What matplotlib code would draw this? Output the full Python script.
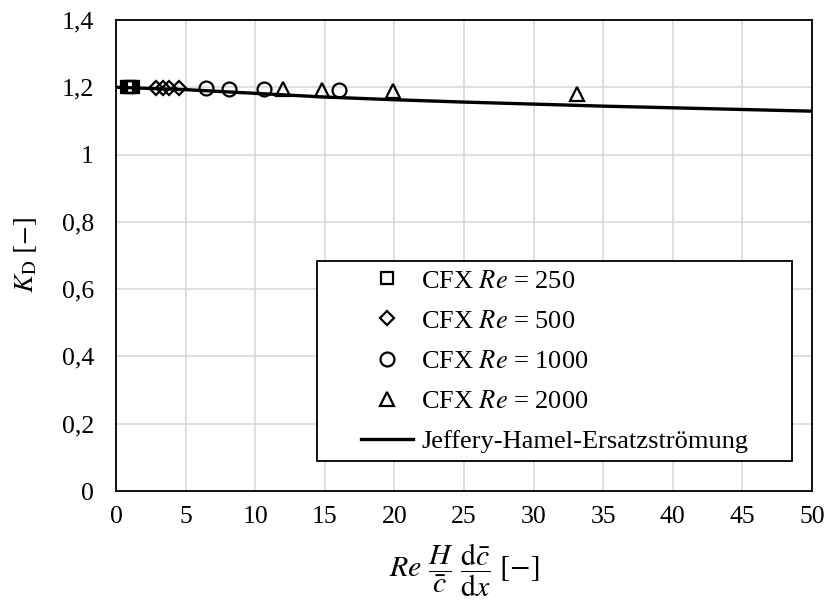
import matplotlib
matplotlib.use("Agg")
import matplotlib.pyplot as plt
from matplotlib.patches import Rectangle
from matplotlib.ticker import FuncFormatter, MultipleLocator

plt.rcParams['font.family'] = ['Liberation Serif', 'DejaVu Serif']
plt.rcParams['mathtext.fontset'] = 'stix'

# Data
re250_x = [0.8, 0.95, 1.1, 1.25]
re250_y = [1.200, 1.200, 1.200, 1.200]
re500_x = [2.85, 3.35, 3.8, 4.5]
re500_y = [1.199, 1.199, 1.198, 1.198]
re1000_x = [6.5, 8.1, 10.6, 16.0]
re1000_y = [1.197, 1.196, 1.194, 1.191]
re2000_x = [12.0, 14.8, 19.9, 33.1]
re2000_y = [1.194, 1.191, 1.188, 1.179]
jh_x = [0, 5, 10, 15, 20, 25, 30, 35, 40, 45, 50]
jh_y = [1.200, 1.193, 1.182, 1.171, 1.163, 1.156, 1.150, 1.144, 1.139, 1.134, 1.129]

labels = [r'CFX $\mathit{Re}$ = 250', r'CFX $\mathit{Re}$ = 500',
          r'CFX $\mathit{Re}$ = 1000', r'CFX $\mathit{Re}$ = 2000',
          'Jeffery-Hamel-Ersatzströmung']

fig = plt.figure(figsize=(8.27, 6.03), dpi=100)
ax = fig.add_axes([116/827, 1-491/603, (812-116)/827, (491-20)/603])

fs = 18.5
mk = dict(linestyle='none', markerfacecolor='none', markeredgecolor='black',
          markeredgewidth=1.6, zorder=5)
h1, = ax.plot(re250_x, re250_y, marker='s', markersize=9, label=labels[0], **mk)
h2, = ax.plot(re500_x, re500_y, marker='D', markersize=7, label=labels[1], **mk)
h3, = ax.plot(re1000_x, re1000_y, marker='o', markersize=10, label=labels[2], **mk)
h4, = ax.plot(re2000_x, re2000_y, marker='^', markersize=10, label=labels[3], **mk)
h5, = ax.plot(jh_x, jh_y, color='black', linewidth=2.4, label=labels[4], zorder=4)

ax.set_xlim(0, 50)
ax.set_ylim(0, 1.4)
ax.xaxis.set_major_locator(MultipleLocator(5))
ax.yaxis.set_major_locator(MultipleLocator(0.2))

def yfmt(v, pos):
    s = ('%.1f' % v)
    if s.endswith('.0'):
        s = s[:-2]
    return s.replace('.', ',')

ax.yaxis.set_major_formatter(FuncFormatter(yfmt))
ax.grid(True, color='#d9d9d9', linewidth=1.2, zorder=0)
ax.set_axisbelow(True)
for sp in ax.spines.values():
    sp.set_color('black')
    sp.set_linewidth(1.3)
ax.tick_params(axis='both', length=0, labelsize=fs)
ax.tick_params(axis='y', pad=16)
ax.tick_params(axis='x', pad=11)

ax.set_xlabel(r'$\mathit{Re}\ \dfrac{H}{\bar{c}}\ \dfrac{\mathrm{d}\bar{c}}{\mathrm{d}x}\ [-]$',
              fontsize=fs + 3, labelpad=10)
ax.set_ylabel(r'$K_{\mathrm{D}}\ [-]$', fontsize=fs + 1, labelpad=16)

# Legend frame
ax.add_patch(Rectangle((0.289, 0.064), 0.682, 0.424, transform=ax.transAxes,
                       facecolor='white', edgecolor='black', linewidth=1.3, zorder=6))
leg = ax.legend(handles=[h1, h2, h3, h4, h5], loc='center',
                bbox_to_anchor=(0.630, 0.276), frameon=False, fontsize=fs + 0.5,
                handlelength=2.0, handletextpad=0.3, labelspacing=0.63,
                borderpad=0.3)
leg.set_zorder(7)

fig.savefig('out.png', dpi=100)
